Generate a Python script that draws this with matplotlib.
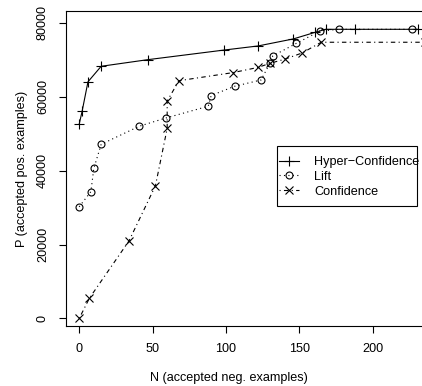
import numpy as np
import matplotlib
matplotlib.use("Agg")
import matplotlib.pyplot as plt
from matplotlib.patches import Rectangle

plt.rcParams['font.family'] = ['Liberation Sans', 'DejaVu Sans']

# Hyper-Confidence
hc_n = [0, 2, 6, 15, 47, 99, 122, 146, 161, 168, 188, 231]
hc_p = [52500, 56000, 64000, 68200, 70000, 72600, 73700, 75600, 77400, 78200, 78200, 78200]

# Lift
lift_n = [0, 8, 10, 15, 41, 59, 88, 90, 106, 124, 130, 132, 148, 164, 177, 227]
lift_p = [30200, 34300, 40600, 47100, 52000, 54200, 57400, 60300, 62800, 64500, 69000, 71000, 74400, 77700, 78200, 78200]

# Confidence
conf_n = [0, 7, 34, 52, 60, 60, 68, 105, 122, 130, 140, 152, 165, 236]
conf_p = [0, 5500, 21000, 35900, 51400, 58800, 64300, 66500, 67900, 69000, 70100, 71800, 74700, 74700]

xticks = [0, 50, 100, 150, 200]
yticks = [0, 20000, 40000, 60000, 80000]

W, H = 422, 386
fig = plt.figure(figsize=(W / 100, H / 100), dpi=100)
# plot region runs past the right edge of the picture (cropped like the original)
ax = fig.add_axes([65.6 / W, 60 / H, 366 / W, 315 / H])

lw = 0.8
ax.plot(hc_n, hc_p, color='black', lw=lw, ls='-', marker='+', ms=7.5, mew=0.8,
        label='Hyper\u2212Confidence')
ax.plot(lift_n, lift_p, color='black', lw=lw, ls=(0, (1, 3)), marker='o', ms=5,
        mfc='none', mew=0.8, label='Lift')
ax.plot(conf_n, conf_p, color='black', lw=lw, ls=(0, (1, 3, 4, 3)), marker='x', ms=5.5,
        mew=0.8, label='Confidence')

ax.set_xlim(-9.24, 240.24)
ax.set_ylim(-2030, 83150)
ax.set_xticks(xticks)
ax.set_yticks(yticks)
ax.set_yticklabels([str(v) for v in yticks], rotation=90, va='center')
ax.tick_params(direction='out', length=5, width=0.8, pad=7, labelsize=9.1)
for s in ax.spines.values():
    s.set_linewidth(0.8)

fig.text(229 / W, 1 - 378 / H, 'N (accepted neg. examples)', ha='center', va='center', fontsize=9.1)
fig.text(21.7 / W, 1 - 168.5 / H, 'P (accepted pos. examples)', ha='center', va='center',
         rotation=90, fontsize=9.1)

leg = ax.legend(loc='upper left', bbox_to_anchor=(279 / W, 1 - 156 / H),
                bbox_transform=fig.transFigure, frameon=False, fontsize=9.1,
                handlelength=1.6, handletextpad=1.2, labelspacing=0.22,
                borderaxespad=0, borderpad=0)
fig.patches.append(Rectangle((277.3 / W, 1 - 205.7 / H), (416.7 - 277.3) / W, (205.7 - 146) / H,
                             transform=fig.transFigure, fill=False, lw=0.8, ec='black'))

fig.savefig('out.png', dpi=100)
